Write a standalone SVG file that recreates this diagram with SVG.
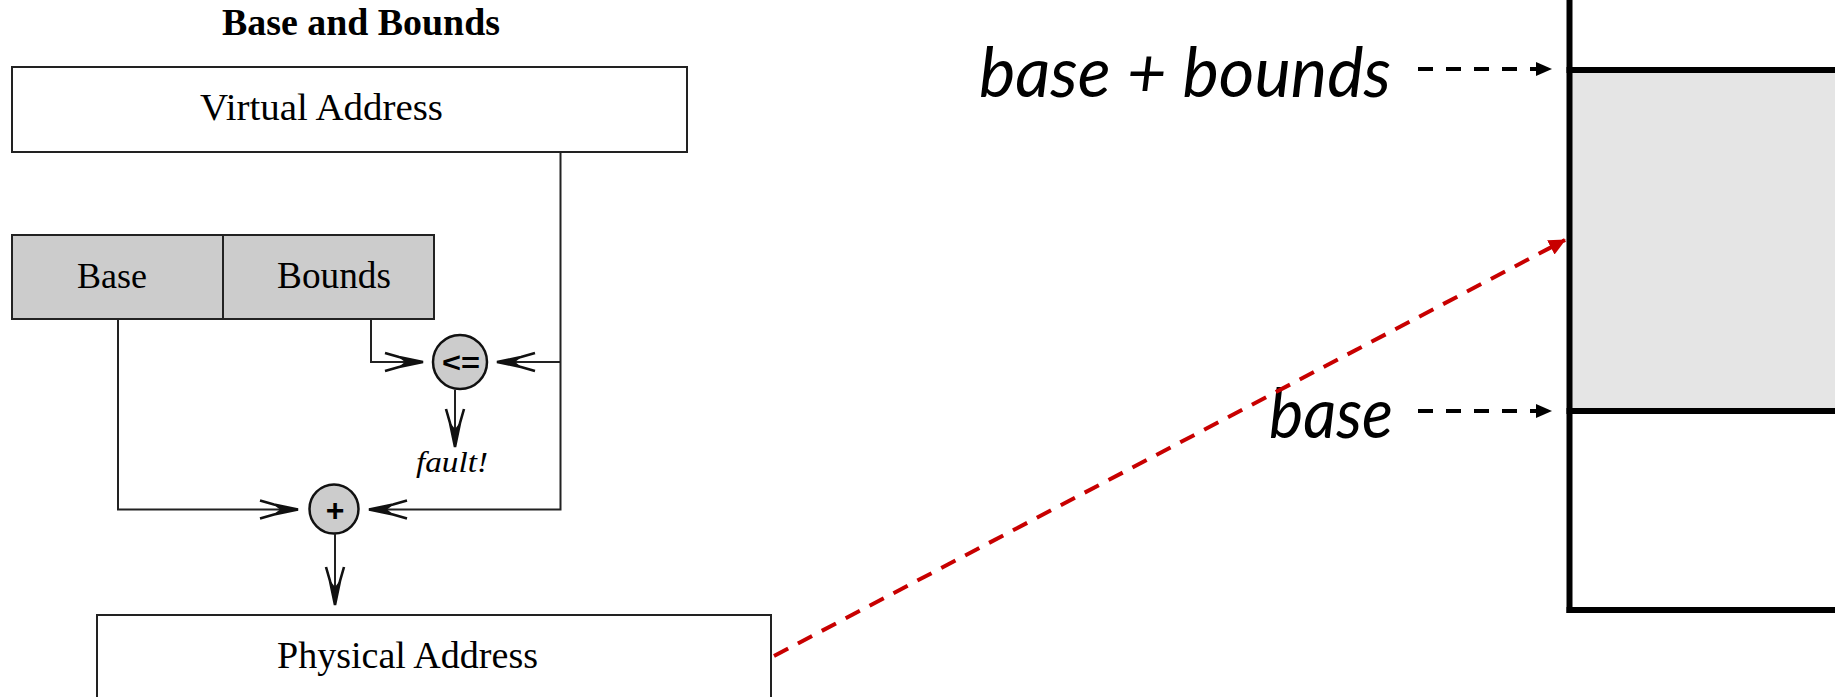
<svg xmlns="http://www.w3.org/2000/svg" width="1835" height="697" viewBox="0 0 1835 697">
<style>
.box{stroke:#222;stroke-width:2;}
.serif{font-family:"Liberation Serif","Times New Roman",serif;fill:#000;}
.wire{fill:none;stroke:#222;stroke-width:2;}
.op{fill:#cccccc;stroke:#111;stroke-width:2.5;}
.opt{font-family:"Liberation Sans",Arial,sans-serif;font-weight:bold;fill:#000;text-anchor:middle;}
.lbl{font-family:Lato,"Open Sans","Noto Sans",sans-serif;font-style:italic;fill:#000;text-anchor:end;font-size:70px;}
.mem{stroke:#000;stroke-width:6;fill:none;}
.dash{fill:none;stroke:#000;stroke-width:4;stroke-dasharray:15 13;}
.red{fill:none;stroke:#c80000;stroke-width:4;stroke-dasharray:16 11;}
</style>
<defs>
<marker id="barb" viewBox="0 0 42 22" markerWidth="42" markerHeight="22" refX="40" refY="11" orient="auto" markerUnits="userSpaceOnUse">
<path d="M2,2 L16,6 L40,11 L16,16 L2,20" fill="none" stroke="#111" stroke-width="2.6"/>
<path d="M40,11 L16,6.5 L22,11 L16,15.5 Z" fill="#111"/>
</marker>
<marker id="tri" viewBox="0 0 16 14" markerWidth="16" markerHeight="14" refX="15" refY="7" orient="auto" markerUnits="userSpaceOnUse">
<path d="M0,0 L16,7 L0,14 Z" fill="#000"/>
</marker>
<marker id="tri-red" viewBox="0 0 17 16" markerWidth="17" markerHeight="16" refX="16" refY="8" orient="auto" markerUnits="userSpaceOnUse">
<path d="M0,0 L17,8 L0,16 Z" fill="#c80000"/>
</marker>
</defs>
<rect width="1835" height="697" fill="#fff"/>

<g id="title">
<text class="serif" x="361" y="35" font-size="37" font-weight="bold" text-anchor="middle" textLength="278" lengthAdjust="spacingAndGlyphs">Base and Bounds</text>
</g>

<g id="virtual-address">
<rect class="box" x="12" y="67" width="675" height="85" fill="#fff"/>
<text class="serif" x="321.5" y="120" font-size="37" text-anchor="middle" textLength="243" lengthAdjust="spacingAndGlyphs">Virtual Address</text>
</g>

<g id="base-register">
<rect class="box" x="12" y="235" width="211" height="84" fill="#cccccc"/>
<text class="serif" x="112" y="288" font-size="36" text-anchor="middle" textLength="70" lengthAdjust="spacingAndGlyphs">Base</text>
</g>

<g id="bounds-register">
<rect class="box" x="223" y="235" width="211" height="84" fill="#cccccc"/>
<text class="serif" x="334" y="288" font-size="37" text-anchor="middle" textLength="114" lengthAdjust="spacingAndGlyphs">Bounds</text>
</g>

<g id="compare">
<circle class="op" cx="460" cy="362" r="27"/>
<text class="opt" x="461" y="372" font-size="28" textLength="38" lengthAdjust="spacingAndGlyphs">&lt;=</text>
</g>

<g id="fault">
<text class="serif" x="452" y="472" font-size="30" font-style="italic" text-anchor="middle" textLength="72" lengthAdjust="spacingAndGlyphs">fault!</text>
</g>

<g id="adder">
<circle class="op" cx="334" cy="509" r="24.5"/>
<text class="opt" x="335" y="521" font-size="32">+</text>
</g>

<g id="physical-address">
<rect class="box" x="97" y="615" width="674" height="100" fill="#fff"/>
<text class="serif" x="407.5" y="668" font-size="37" text-anchor="middle" textLength="261" lengthAdjust="spacingAndGlyphs">Physical Address</text>
</g>

<g id="memory">
<rect x="1569.5" y="70" width="280" height="341" fill="#e5e5e5"/>
<line class="mem" x1="1569.5" y1="0" x2="1569.5" y2="613"/>
<line class="mem" x1="1566.5" y1="70" x2="1840" y2="70"/>
<line class="mem" x1="1566.5" y1="411" x2="1840" y2="411"/>
<line class="mem" x1="1566.5" y1="610" x2="1840" y2="610"/>
</g>

<g id="label-base-bounds">
<text class="lbl" x="1391" y="97" textLength="412" lengthAdjust="spacingAndGlyphs">base + bounds</text>
</g>

<g id="label-base">
<text class="lbl" x="1393" y="438" textLength="124" lengthAdjust="spacingAndGlyphs">base</text>
</g>

<g id="connectors">
<polyline class="wire" points="560.5,152 560.5,509.5 369,509.5" marker-end="url(#barb)"/>
<line class="wire" x1="560.5" y1="362" x2="497" y2="362" marker-end="url(#barb)"/>
<polyline class="wire" points="371,319 371,362 423,362" marker-end="url(#barb)"/>
<polyline class="wire" points="118,319 118,509.5 298,509.5" marker-end="url(#barb)"/>
<line class="wire" x1="455" y1="390" x2="455" y2="447" marker-end="url(#barb)"/>
<line class="wire" x1="335" y1="533.5" x2="335" y2="605" marker-end="url(#barb)"/>
<line class="dash" x1="1418" y1="69" x2="1551" y2="69" marker-end="url(#tri)"/>
<line class="dash" x1="1418" y1="411" x2="1551" y2="411" marker-end="url(#tri)"/>
<line class="red" x1="774" y1="656" x2="1565" y2="240" marker-end="url(#tri-red)"/>
</g>
</svg>
